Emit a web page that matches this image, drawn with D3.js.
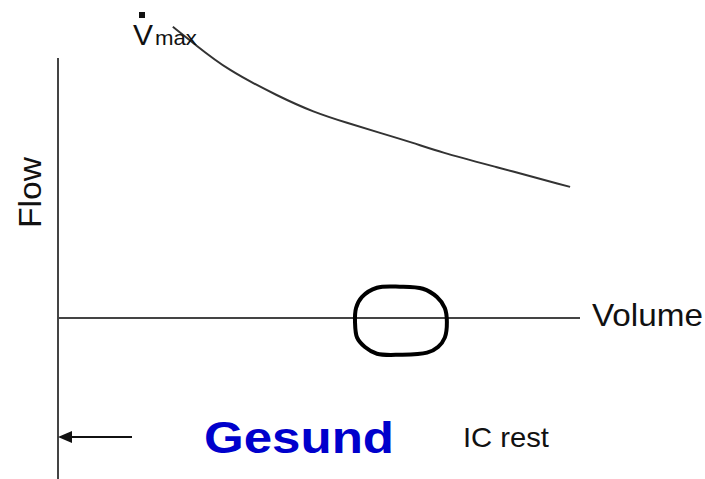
<!DOCTYPE html>
<html>
<head>
<meta charset="utf-8">
<title>Flow-Volume</title>
<script src="https://cdn.jsdelivr.net/npm/d3@7"></script>
<style>
  body { margin: 0; background: #fff; }
  text { font-family: "Liberation Sans", Arial, sans-serif; }
</style>
</head>
<body>
<svg id="svg"></svg>
<script>
var WIDTH = 705;
var HEIGHT = 479;

// Vmax envelope (volume, flow)
var vmaxVolume = [22.0, 25.9, 32.4, 42.5, 48.9, 55.4, 61.7, 68.0, 73.2, 83.3, 98.1];
var vmaxFlow   = [56.0, 52.9, 47.7, 42.5, 39.6, 37.5, 35.6, 33.7, 31.9, 29.2, 25.2];

// tidal breathing loop at rest
var loopVolume = [61.1, 65.5, 69.9, 72.6, 74.1, 74.5, 74.1, 72.8, 70.7, 65.5, 61.1, 58.8, 57.3, 56.9, 57.1, 58.2];
var loopFlow   = [5.8, 6.0, 5.6, 4.0, 1.9, -0.8, -3.8, -5.6, -6.7, -7.1, -6.9, -5.6, -3.8, -0.8, 1.9, 4.0];

var labels = { x: "Volume", y: "Flow", title: "Gesund", ic: "IC rest" };

var svg = d3.select("#svg").attr("width", WIDTH).attr("height", HEIGHT);

var x = d3.scaleLinear().domain([0, 100]).range([58, 580]);
var y = d3.scaleLinear().domain([-31, 50]).range([479, 58]);

// axes
svg.append("line")
   .attr("x1", x(0)).attr("x2", x(0))
   .attr("y1", y(50)).attr("y2", y(-31))
   .attr("stroke", "#444").attr("stroke-width", 2);
svg.append("line")
   .attr("x1", x(0)).attr("x2", x(100))
   .attr("y1", y(0)).attr("y2", y(0))
   .attr("stroke", "#444").attr("stroke-width", 2);

var line = d3.line()
   .x(function(d){ return x(d[0]); })
   .y(function(d){ return y(d[1]); });

svg.append("path")
   .datum(d3.zip(vmaxVolume, vmaxFlow))
   .attr("d", line.curve(d3.curveBasis))
   .attr("fill", "none")
   .attr("stroke", "#333")
   .attr("stroke-width", 2);

svg.append("path")
   .datum(d3.zip(loopVolume, loopFlow))
   .attr("d", line.curve(d3.curveCatmullRomClosed.alpha(0.5)))
   .attr("fill", "none")
   .attr("stroke", "#000")
   .attr("stroke-width", 4);

// labels
svg.append("text")
   .attr("x", 592).attr("y", 326)
   .attr("font-size", "32px")
   .attr("textLength", 111).attr("lengthAdjust", "spacingAndGlyphs")
   .attr("fill", "#111")
   .text(labels.x);

svg.append("text")
   .attr("transform", "translate(41,228) rotate(-90)")
   .attr("font-size", "32px")
   .attr("textLength", 71).attr("lengthAdjust", "spacingAndGlyphs")
   .attr("fill", "#111")
   .text(labels.y);

svg.append("text")
   .attr("x", 133).attr("y", 45)
   .attr("font-size", "30px")
   .attr("textLength", 20).attr("lengthAdjust", "spacingAndGlyphs")
   .attr("fill", "#111")
   .text("V");
svg.append("rect")
   .attr("x", 139).attr("y", 12).attr("width", 6).attr("height", 6)
   .attr("fill", "#111");
svg.append("text")
   .attr("x", 155).attr("y", 45)
   .attr("font-size", "21px")
   .attr("textLength", 42).attr("lengthAdjust", "spacingAndGlyphs")
   .attr("fill", "#111")
   .text("max");

svg.append("text")
   .attr("x", 204).attr("y", 453)
   .attr("font-size", "44px")
   .attr("font-weight", "bold")
   .attr("textLength", 190).attr("lengthAdjust", "spacingAndGlyphs")
   .attr("fill", "#0000cc")
   .text(labels.title);

svg.append("text")
   .attr("x", 463).attr("y", 447)
   .attr("font-size", "28px")
   .attr("textLength", 86).attr("lengthAdjust", "spacingAndGlyphs")
   .attr("fill", "#111")
   .text(labels.ic);

// arrow towards the flow axis
svg.append("line")
   .attr("x1", 132).attr("x2", 68)
   .attr("y1", 437).attr("y2", 437)
   .attr("stroke", "#111").attr("stroke-width", 2);
svg.append("path")
   .attr("d", "M58,437 L72,431 L72,443 Z")
   .attr("fill", "#111");
</script>
</body>
</html>
